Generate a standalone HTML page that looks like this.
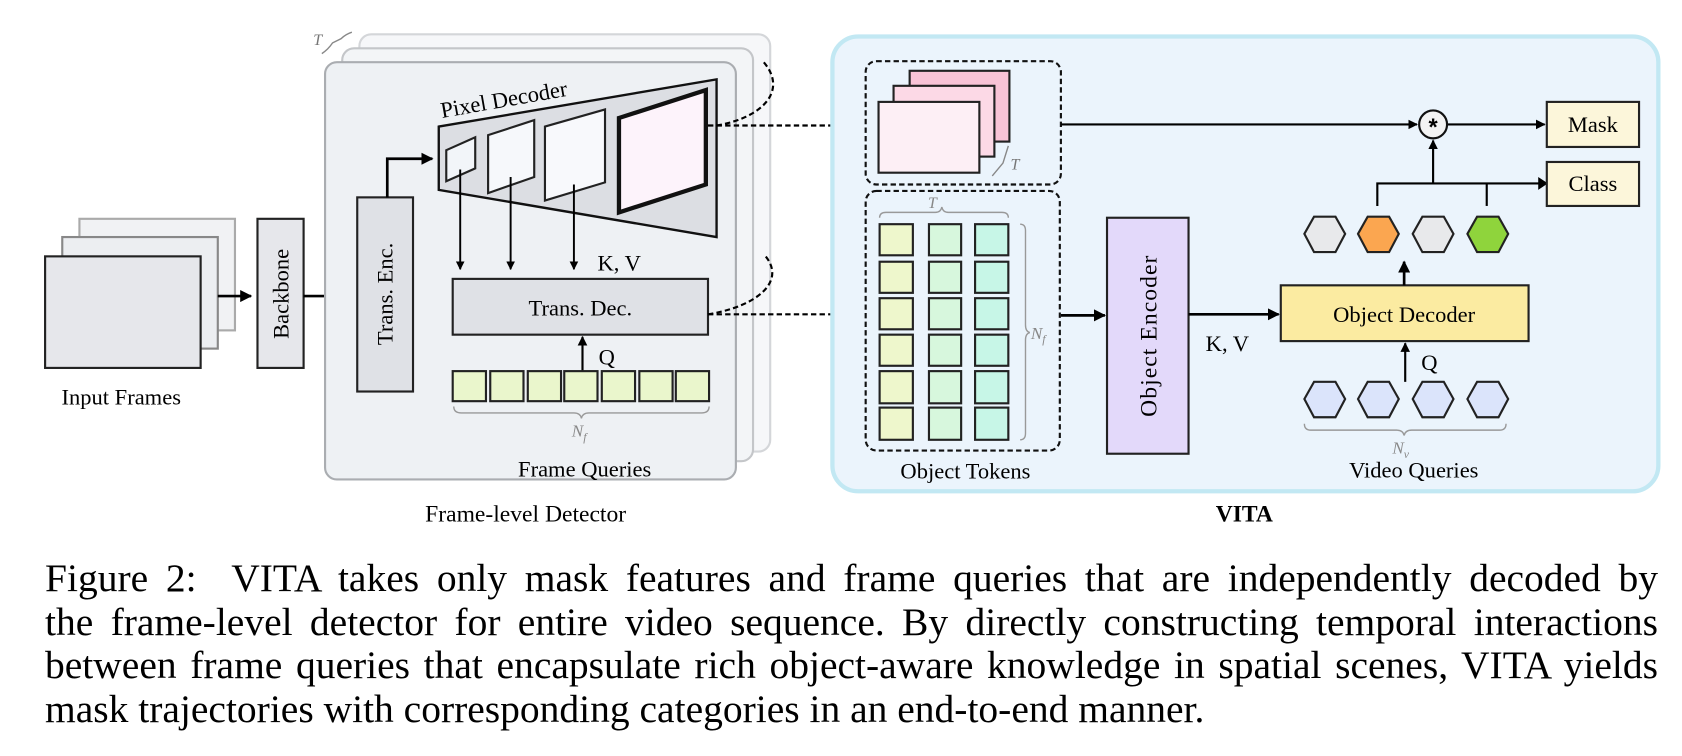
<!DOCTYPE html>
<html><head><meta charset="utf-8"><style>
html,body{margin:0;padding:0;background:#fff;}
body{width:1682px;height:756px;overflow:hidden;position:relative;font-family:"Liberation Serif",serif;}
svg{position:absolute;left:0;top:0;}
.cap{position:absolute;left:45px;top:557px;width:1613px;font-size:39.5px;line-height:43.5px;color:#000;}
.cap div{white-space:nowrap;text-align:justify;text-align-last:justify;}
.cap div.l{text-align-last:left;}
</style></head><body>
<svg width="1682" height="756" viewBox="0 0 1568 704.8" font-family="Liberation Serif, serif">
<defs>
<marker id="a" viewBox="0 0 10 10" refX="9" refY="5" markerWidth="4.5" markerHeight="4.5" orient="auto"><path d="M0,0 L10,5 L0,10 z" fill="#000"/></marker>
</defs>
<rect x="74" y="204" width="145" height="104" fill="#f1f2f4" stroke="#aaa" stroke-width="2"/>
<rect x="58" y="221" width="145" height="104" fill="#eceef1" stroke="#888" stroke-width="2"/>
<rect x="42" y="239" width="145" height="104" fill="#e6e7eb" stroke="#222" stroke-width="2"/>
<text x="113" y="377" font-size="21" text-anchor="middle">Input Frames</text>
<line x1="203" y1="276" x2="234" y2="276" stroke="#000" stroke-width="2.5" marker-end="url(#a)"/>
<rect x="240" y="204" width="43" height="139" fill="#e6e7eb" stroke="#222" stroke-width="2"/>
<text transform="translate(269,274) rotate(-90)" font-size="21" text-anchor="middle">Backbone</text>
<line x1="283" y1="276" x2="326" y2="276" stroke="#000" stroke-width="2.5" marker-end="url(#a)"/>
<rect x="335" y="32" width="383" height="389" rx="11" fill="#f6f7f9" stroke="#d4d6d9" stroke-width="2"/>
<rect x="319" y="45" width="383" height="385" rx="11" fill="#f3f5f7" stroke="#c4c6c9" stroke-width="2"/>
<rect x="303" y="58" width="383" height="389" rx="11" fill="#eef1f4" stroke="#aaadb1" stroke-width="2"/>
<path d="M300 50 Q306 46 310 40 L318 36 Q322 32 328 30" fill="none" stroke="#888" stroke-width="1.3"/>
<text x="292" y="42" font-size="15" font-style="italic" fill="#777">T</text>
<rect x="333" y="184" width="52" height="181" fill="#dfe1e6" stroke="#222" stroke-width="2"/>
<text transform="translate(366,274) rotate(-90)" font-size="21" text-anchor="middle">Trans. Enc.</text>
<polyline points="361,184 361,148 403,148" fill="none" stroke="#000" stroke-width="2.5" marker-end="url(#a)"/>
<polygon points="409,118 668,74 668,221 409,177" fill="#dcdee3" stroke="#111" stroke-width="2.2"/>
<text transform="translate(412,110) rotate(-10)" font-size="21">Pixel Decoder</text>
<polygon points="416,140 443,128 443,157 416,169" fill="#f2f5f9" stroke="#222" stroke-width="2"/>
<polygon points="455,126 498,112 498,165 455,180" fill="#f6f8fb" stroke="#222" stroke-width="2"/>
<polygon points="508,118 564,102 564,170 508,187" fill="#f8f9fc" stroke="#222" stroke-width="2"/>
<polygon points="577,110 658,84 658,172 577,198" fill="#fdf3fb" stroke="#111" stroke-width="4"/>
<line x1="429" y1="158" x2="429" y2="251" stroke="#000" stroke-width="1.8" marker-end="url(#a)"/>
<line x1="476" y1="165" x2="476" y2="251" stroke="#000" stroke-width="1.8" marker-end="url(#a)"/>
<line x1="535" y1="172" x2="535" y2="251" stroke="#000" stroke-width="1.8" marker-end="url(#a)"/>
<text x="557" y="252" font-size="21">K, V</text>
<rect x="422" y="260" width="238" height="52" fill="#dfe1e6" stroke="#222" stroke-width="2"/>
<text x="541" y="294" font-size="21" text-anchor="middle">Trans. Dec.</text>
<line x1="543" y1="346" x2="543" y2="314" stroke="#000" stroke-width="2" marker-end="url(#a)"/>
<text x="558" y="340" font-size="21">Q</text>
<g fill="#eaf6cc" stroke="#222" stroke-width="2">
<rect x="422" y="346" width="31" height="28"/><rect x="457" y="346" width="31" height="28"/><rect x="492" y="346" width="31" height="28"/><rect x="526" y="346" width="31" height="28"/><rect x="561" y="346" width="31" height="28"/><rect x="596" y="346" width="31" height="28"/><rect x="630" y="346" width="31" height="28"/>
</g>
<path d="M423 379 Q423 385 430 385 L535 385 Q541 385 542 390 Q543 385 549 385 L654 385 Q661 385 661 379" fill="none" stroke="#999" stroke-width="1.3"/>
<text x="533" y="407" font-size="16" font-style="italic" fill="#888">N<tspan font-size="11" dy="4">f</tspan></text>
<text x="545" y="444" font-size="21" text-anchor="middle">Frame Queries</text>
<text x="490" y="486" font-size="22" text-anchor="middle">Frame-level Detector</text>
<g fill="none" stroke="#000" stroke-width="2" stroke-dasharray="5,3">
<line x1="660" y1="117" x2="794" y2="117"/>
<path d="M668 117 C710 110 735 85 712 58"/>
<line x1="660" y1="293" x2="794" y2="293"/>
<path d="M660 293 C705 286 735 262 712 237"/>
</g>
<path d="M788 111 L798 117 L788 123 z"/><path d="M788 287 L798 293 L788 299 z"/>
<rect x="776" y="34" width="770" height="424" rx="24" fill="#ebf4fc" stroke="#c2e8f3" stroke-width="4"/>
<rect x="807" y="57" width="182" height="115" rx="10" fill="none" stroke="#111" stroke-width="2" stroke-dasharray="5,3"/>
<rect x="848" y="66" width="93" height="66" fill="#f9c3d6" stroke="#222" stroke-width="2"/>
<rect x="833" y="80" width="94" height="66" fill="#fcd9e6" stroke="#222" stroke-width="2"/>
<rect x="819" y="95" width="94" height="66" fill="#fdeff5" stroke="#222" stroke-width="2"/>
<path d="M925 164 L935 152 L940 136" fill="none" stroke="#888" stroke-width="1.3"/>
<text x="942" y="158" font-size="15" font-style="italic" fill="#777">T</text>
<rect x="807" y="178" width="181" height="242" rx="10" fill="none" stroke="#111" stroke-width="2" stroke-dasharray="5,3"/>
<path d="M820 203 Q820 198 826 198 L872 198 Q877 198 878 193 Q879 198 884 198 L934 198 Q940 198 940 203" fill="none" stroke="#999" stroke-width="1.3"/>
<text x="865" y="194" font-size="15" font-style="italic" fill="#888">T</text>
<path d="M951 209 Q956 209 956 215 L956 303 Q956 309 960 310 Q956 311 956 317 L956 404 Q956 410 951 410" fill="none" stroke="#999" stroke-width="1.3"/>
<text x="961" y="316" font-size="16" font-style="italic" fill="#888">N<tspan font-size="11" dy="4">f</tspan></text>
<g stroke="#222" stroke-width="2">
<g fill="#eef7cc"><rect x="820" y="209" width="31" height="29"/><rect x="820" y="244" width="31" height="29"/><rect x="820" y="278" width="31" height="29"/><rect x="820" y="312" width="31" height="29"/><rect x="820" y="346" width="31" height="30"/><rect x="820" y="380" width="31" height="30"/></g>
<g fill="#d7f7dd"><rect x="866" y="209" width="30" height="29"/><rect x="866" y="244" width="30" height="29"/><rect x="866" y="278" width="30" height="29"/><rect x="866" y="312" width="30" height="29"/><rect x="866" y="346" width="30" height="30"/><rect x="866" y="380" width="30" height="30"/></g>
<g fill="#c7f6e7"><rect x="909" y="209" width="31" height="29"/><rect x="909" y="244" width="31" height="29"/><rect x="909" y="278" width="31" height="29"/><rect x="909" y="312" width="31" height="29"/><rect x="909" y="346" width="31" height="30"/><rect x="909" y="380" width="31" height="30"/></g>
</g>
<text x="900" y="446" font-size="21" text-anchor="middle">Object Tokens</text>
<line x1="989" y1="294" x2="1030" y2="294" stroke="#000" stroke-width="2.5" marker-end="url(#a)"/>
<rect x="1032" y="203" width="76" height="220" fill="#e3d9fa" stroke="#222" stroke-width="2"/>
<text transform="translate(1078,313) rotate(-90)" font-size="22" text-anchor="middle" letter-spacing="1">Object Encoder</text>
<line x1="1108" y1="293" x2="1192" y2="293" stroke="#000" stroke-width="2.5" marker-end="url(#a)"/>
<text x="1124" y="327" font-size="21">K, V</text>
<rect x="1194" y="266" width="231" height="52" fill="#fbeba1" stroke="#222" stroke-width="2"/>
<text x="1309" y="300" font-size="21" text-anchor="middle">Object Decoder</text>
<line x1="1309" y1="266" x2="1309" y2="244" stroke="#000" stroke-width="2.5" marker-end="url(#a)"/>
<line x1="1310" y1="356" x2="1310" y2="320" stroke="#000" stroke-width="2" marker-end="url(#a)"/>
<text x="1325" y="345" font-size="21">Q</text>
<g stroke="#222" stroke-width="2">
<polygon points="1216,218 1225,202 1245,202 1254,218 1245,235 1225,235" fill="#e8e9eb"/>
<polygon points="1266,218 1275,202 1295,202 1304,218 1295,235 1275,235" fill="#fba650"/>
<polygon points="1317,218 1326,202 1346,202 1355,218 1346,235 1326,235" fill="#e8e9eb"/>
<polygon points="1368,218 1377,202 1397,202 1406,218 1397,235 1377,235" fill="#8fd43c"/>
<polygon points="1216,372 1225,356 1245,356 1254,372 1245,389 1225,389" fill="#dbe4fb"/>
<polygon points="1266,372 1275,356 1295,356 1304,372 1295,389 1275,389" fill="#dbe4fb"/>
<polygon points="1317,372 1326,356 1346,356 1355,372 1346,389 1326,389" fill="#dbe4fb"/>
<polygon points="1368,372 1377,356 1397,356 1406,372 1397,389 1377,389" fill="#dbe4fb"/>
</g>
<path d="M1216 395 Q1216 401 1222 401 L1302 401 Q1308 401 1309 406 Q1310 401 1316 401 L1398 401 Q1404 401 1404 395" fill="none" stroke="#999" stroke-width="1.3"/>
<text x="1298" y="423" font-size="16" font-style="italic" fill="#888">N<tspan font-size="11" dy="4">v</tspan></text>
<text x="1318" y="445" font-size="21" text-anchor="middle">Video Queries</text>
<g fill="none" stroke="#000" stroke-width="2">
<polyline points="1284,192 1284,171 1436,171"/>
<line x1="1386" y1="171" x2="1386" y2="192"/>
<line x1="1336" y1="171" x2="1336" y2="131" marker-end="url(#a)"/>
<line x1="989" y1="116" x2="1321" y2="116" marker-end="url(#a)"/>
<line x1="1349" y1="116" x2="1440" y2="116" marker-end="url(#a)"/>
</g>
<path d="M1434 165 L1443 171 L1434 177 z"/>
<circle cx="1336" cy="116" r="13" fill="#f3f3f3" stroke="#111" stroke-width="2"/>
<text x="1336" y="126" font-size="22" font-weight="bold" text-anchor="middle" font-family="Liberation Sans, sans-serif">*</text>
<rect x="1442" y="95" width="86" height="42" fill="#fcf6da" stroke="#222" stroke-width="2"/>
<text x="1485" y="123" font-size="21" text-anchor="middle">Mask</text>
<rect x="1442" y="151" width="86" height="41" fill="#fcf6da" stroke="#222" stroke-width="2"/>
<text x="1485" y="178" font-size="21" text-anchor="middle">Class</text>
<text x="1160" y="486" font-size="22" font-weight="bold" text-anchor="middle">VITA</text>
</svg>
<div class="cap">
<div>Figure 2:&nbsp; VITA takes only mask features and frame queries that are independently decoded by</div>
<div>the frame-level detector for entire video sequence. By directly constructing temporal interactions</div>
<div>between frame queries that encapsulate rich object-aware knowledge in spatial scenes, VITA yields</div>
<div class="l">mask trajectories with corresponding categories in an end-to-end manner.</div>
</div>
</body></html>
